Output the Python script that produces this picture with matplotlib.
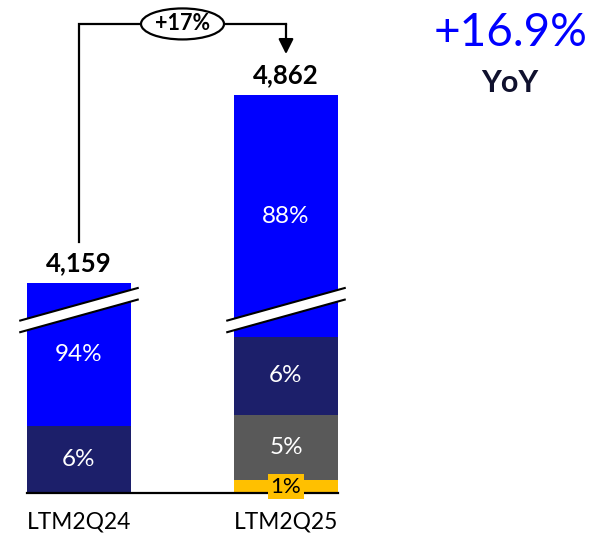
import matplotlib.pyplot as plt
from matplotlib.patches import Ellipse, Polygon

# ---- data ----
categories = ["LTM2Q24", "LTM2Q25"]
totals = [4159, 4862]
yellow_share = [0, 1]      # % of total, bottom segment
gray_share = [0, 5]
navy_share = [6, 6]
blue_share = [94, 88]      # top segment (drawn through the axis break)
growth_label = "+17%"
yoy_value = "+16.9%"
yoy_caption = "YoY"

# ---- style ----
BLUE = "#0000FF"
NAVY = "#1C1F6A"
GRAY = "#595959"
YELLOW = "#FFC000"
DARK = "#10112E"
FONT = "Lato"

W, H, DPI = 601, 534, 100
CUT = 3374            # amount removed from the top segment by the axis break
BREAK_Y = 684         # display height of the break band centre
BAR_W = 0.5

fig = plt.figure(figsize=(W / DPI, H / DPI), dpi=DPI)
ax = fig.add_axes([0, 0, 1, 1])
ax.set_xlim(-0.3816, 2.5217)
ax.set_ylim(-153.3, 1843.5)
ax.axis("off")

# size of one pixel in data units
sx = (ax.get_xlim()[1] - ax.get_xlim()[0]) / W
sy = (ax.get_ylim()[1] - ax.get_ylim()[0]) / H

x = list(range(len(categories)))
segments = [
    (yellow_share, YELLOW, "black"),
    (gray_share, GRAY, "white"),
    (navy_share, NAVY, "white"),
    (blue_share, BLUE, "white"),
]

tops = []
for i, tot in enumerate(totals):
    bottom = 0.0
    for k, (shares, color, tcolor) in enumerate(segments):
        share = shares[i]
        if share == 0:
            continue
        h = share / 100 * tot
        if k == len(segments) - 1:
            h -= CUT  # broken axis: top segment shortened
        ax.bar(x[i], h, bottom=bottom, width=BAR_W, color=color, linewidth=0, zorder=2)
        cy = bottom + h / 2
        if color == YELLOW:
            ax.text(x[i], cy, f"{share}%", ha="center", va="center", fontsize=16,
                    family=FONT, color=tcolor, zorder=5,
                    bbox=dict(boxstyle="square,pad=0.12", fc=YELLOW, ec="none"))
        else:
            ax.text(x[i], cy, f"{share}%", ha="center", va="center", fontsize=17.5,
                    family=FONT, color=tcolor, zorder=5)
        bottom += h
    tops.append(bottom)
    # total label
    ax.annotate(f"{tot:,}", (x[i], bottom), xytext=(0, 8.6), textcoords="offset points",
                ha="center", va="baseline", fontsize=18.5, fontweight="bold",
                family=FONT, color="black")
    # category label
    ax.annotate(categories[i], (x[i], 0), xytext=(0, -21), textcoords="offset points",
                ha="center", va="center", fontsize=16.4, family=FONT, color="black")

    # axis break band
    half_w = BAR_W / 2 + 8 * sx
    slope = 0.277 * sy / sx
    gap = 5.8 * sy
    xl, xr = x[i] - half_w, x[i] + half_w
    yl, yr = BREAK_Y - slope * half_w, BREAK_Y + slope * half_w
    ax.add_patch(Polygon([(xl, yl - gap), (xr, yr - gap), (xr, yr + gap), (xl, yl + gap)],
                         closed=True, fc="white", ec="none", zorder=3))
    for s in (-1, 1):
        ax.plot([xl, xr], [yl + s * gap, yr + s * gap], color="black", lw=1.5, zorder=4,
                solid_capstyle="butt")

# baseline
ax.plot([x[0] - BAR_W / 2, x[-1] + BAR_W / 2], [0, 0], color="black", lw=1.6, zorder=4)

# growth bracket
lift = 41 * sy
bracket_y = 1754
ax.plot([x[0], x[0], x[1]], [tops[0] + lift, bracket_y, bracket_y], color="black", lw=1.6,
        solid_joinstyle="miter", zorder=4)
ax.annotate("", xy=(x[1], tops[1] + lift), xytext=(x[1], bracket_y),
            arrowprops=dict(arrowstyle="-|>,head_length=0.9,head_width=0.45", color="black",
                            lw=1.6, shrinkA=0, shrinkB=0), zorder=4)
mid = (x[0] + x[1]) / 2
ax.add_patch(Ellipse((mid, bracket_y), 83 * sx, 31 * sy, fc="white", ec="black", lw=1.6, zorder=5))
ax.text(mid, bracket_y, growth_label, ha="center", va="center", fontsize=15.5,
        fontweight="bold", family=FONT, color="black", zorder=6)

# headline growth figure
fig.text(511 / W, 1 - 33 / H, yoy_value, ha="center", va="center", fontsize=33,
         family=FONT, color=BLUE)
fig.text(510 / W, 1 - 83 / H, yoy_caption, ha="center", va="center", fontsize=22,
         fontweight="bold", family=FONT, color=DARK)

fig.savefig("out.png", dpi=DPI)
